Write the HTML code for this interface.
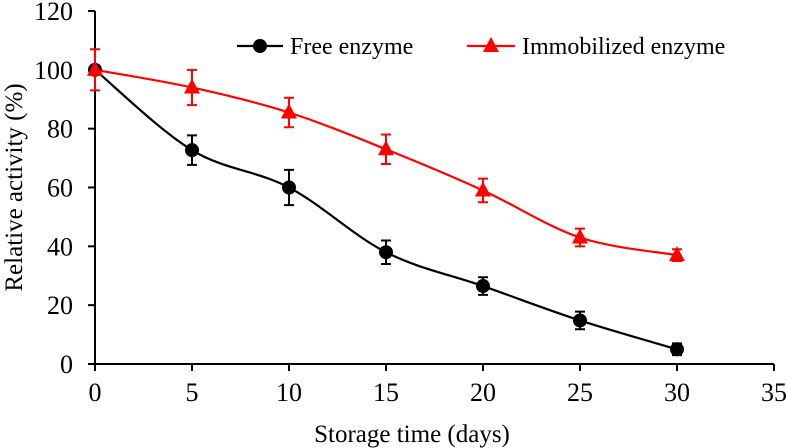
<!DOCTYPE html>
<html><head><meta charset="utf-8"><style>
html,body{margin:0;padding:0;background:#fff;}
svg{display:block;font-family:"Liberation Serif",serif;}
</style></head><body>
<svg id="chart" width="787" height="448" viewBox="0 0 787 448" xmlns="http://www.w3.org/2000/svg"></svg>
<script>
const days = [0, 5, 10, 15, 20, 25, 30];
const freeValues = [100, 72.7, 60, 38, 26.5, 14.8, 5];
const freeErrors = [1.5, 5, 6, 4, 3, 3, 2];
const immValues = [100, 94, 85.5, 73, 59, 43, 37];
const immErrors = [7, 6, 5, 5, 4, 3, 2];
const xTicks = [0, 5, 10, 15, 20, 25, 30, 35];
const yTicks = [0, 20, 40, 60, 80, 100, 120];

const NS = "http://www.w3.org/2000/svg";
const svg = document.getElementById('chart');
const X0 = 95, X1 = 774, Y0 = 364, Y1 = 11;
const xs = v => X0 + (v - 0) / 35 * (X1 - X0);
const ys = v => Y0 - v / 120 * (Y0 - Y1);
function mk(tag, attrs, parent) {
  const e = document.createElementNS(NS, tag);
  for (const k in attrs) e.setAttribute(k, attrs[k]);
  (parent || svg).appendChild(e);
  return e;
}
const axes = mk('g', {});


let a = mk('line', {x1: X0, y1: Y0, x2: X1, y2: Y0, stroke: '#000', 'stroke-width': 2}, axes);
 
a = mk('line', {x1: X0, y1: Y0, x2: X0, y2: Y1, stroke: '#000', 'stroke-width': 2}, axes);
 
xTicks.forEach(t => {
  mk('line', {x1: xs(t), y1: Y0, x2: xs(t), y2: Y0 + 7, stroke: '#000', 'stroke-width': 2}, axes);
  const tx = mk('text', {x: xs(t), y: Y0 + 37, 'text-anchor': 'middle', 'font-size': 26}, axes);
  tx.textContent = t;
  
  
});
yTicks.forEach(t => {
  mk('line', {x1: X0 - 7, y1: ys(t), x2: X0, y2: ys(t), stroke: '#000', 'stroke-width': 2}, axes);
  const tx = mk('text', {x: X0 - 22, y: ys(t) + 9, 'text-anchor': 'end', 'font-size': 26}, axes);
  tx.textContent = t;
  
  
});
let t = mk('text', {x: 412, y: 442, 'text-anchor': 'middle', 'font-size': 25});
t.textContent = 'Storage time (days)';
 
t = mk('text', {x: 0, y: 0, 'text-anchor': 'middle', 'font-size': 25, transform: 'translate(22,' + ((Y0 + Y1) / 2) + ') rotate(-90)'});
t.textContent = 'Relative activity (%)';
 

function smooth(pts) {
  let d = 'M' + pts[0][0] + ',' + pts[0][1];
  for (let i = 0; i < pts.length - 1; i++) {
    const p0 = pts[i - 1] || pts[i], p1 = pts[i], p2 = pts[i + 1], p3 = pts[i + 2] || p2;
    const c1 = [p1[0] + (p2[0] - p0[0]) / 6, p1[1] + (p2[1] - p0[1]) / 6];
    const c2 = [p2[0] - (p3[0] - p1[0]) / 6, p2[1] - (p3[1] - p1[1]) / 6];
    d += ' C' + c1 + ' ' + c2 + ' ' + p2;
  }
  return d;
}
function series(vals, errs, color, shape, name) {
  const g = mk('g', {});
  
  
  const pts = vals.map((v, i) => [xs(days[i]), ys(v)]);
  const p = mk('path', {d: smooth(pts), fill: 'none', stroke: color, 'stroke-width': 2.2}, g);
   
  vals.forEach((v, i) => {
    const x = xs(days[i]), yt = ys(v + errs[i]), yb = ys(v - errs[i]);
    const eb = mk('path', {d: `M${x},${yt}V${yb}M${x - 5},${yt}H${x + 5}M${x - 5},${yb}H${x + 5}`, stroke: color, 'stroke-width': 2, fill: 'none'}, g);
     
  });
  vals.forEach((v, i) => {
    const x = xs(days[i]), y = ys(v);
    let m;
    if (shape === 'circle') m = mk('circle', {cx: x, cy: y, r: 7, fill: color}, g);
    else m = mk('polygon', {points: `${x},${y - 9} ${x - 8},${y + 6} ${x + 8},${y + 6}`, fill: color}, g);
     
  });
}
series(freeValues, freeErrors, '#000', 'circle', 'free-enzyme');
series(immValues, immErrors, '#f00', 'triangle', 'immobilized-enzyme');

const lg = mk('g', {});
 
mk('line', {x1: 237, y1: 46, x2: 283, y2: 46, stroke: '#000', 'stroke-width': 2.2}, lg);
mk('circle', {cx: 260, cy: 46, r: 7, fill: '#000'}, lg);
t = mk('text', {x: 290, y: 54, 'font-size': 24}, lg);
t.textContent = 'Free enzyme';
 
mk('line', {x1: 467, y1: 46, x2: 515, y2: 46, stroke: '#f00', 'stroke-width': 2.2}, lg);
mk('polygon', {points: '491,37 483,52 499,52', fill: '#f00'}, lg);
t = mk('text', {x: 522, y: 54, 'font-size': 24}, lg);
t.textContent = 'Immobilized enzyme';
 
</script>
</body></html>
